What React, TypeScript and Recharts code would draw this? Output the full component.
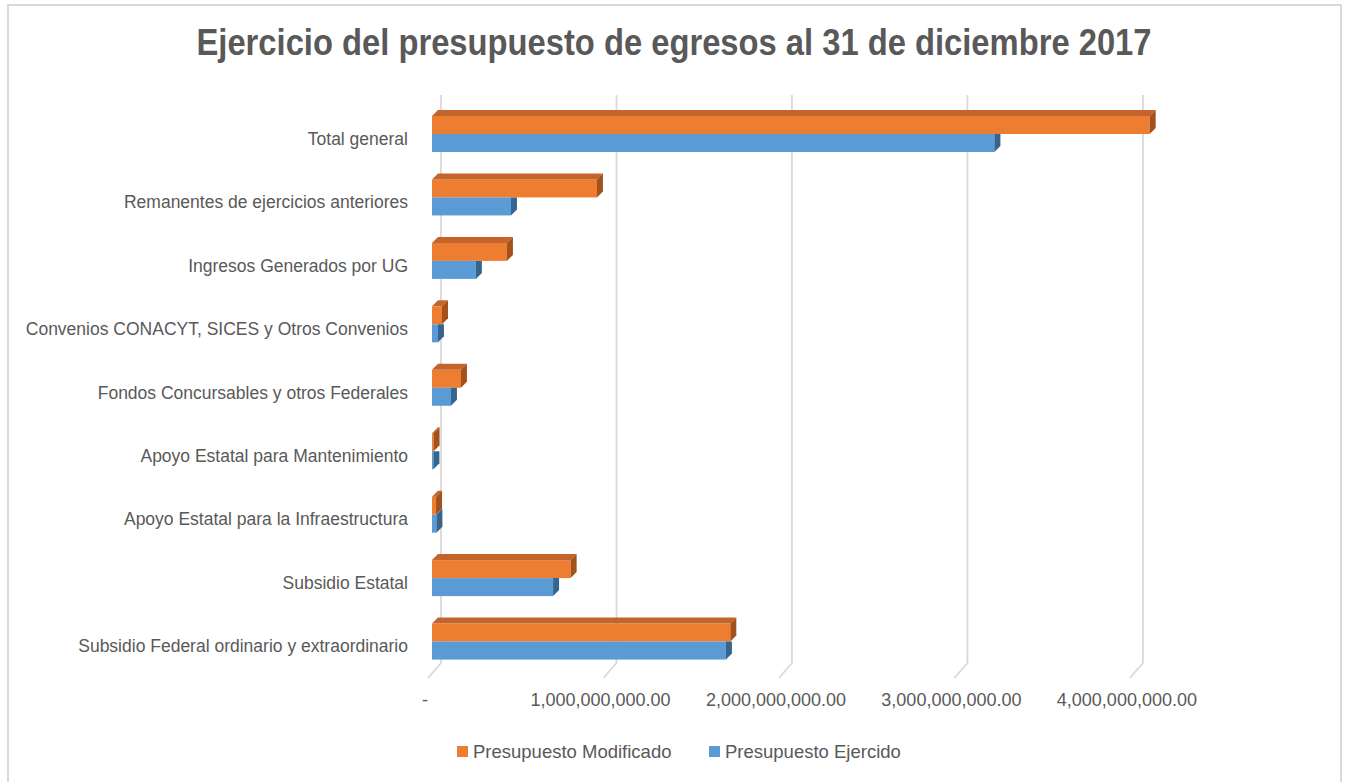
import React from 'react';
import { BarChart, Bar, XAxis, YAxis, CartesianGrid } from 'recharts';

const categories = [
  'Total general',
  'Remanentes de ejercicios anteriores',
  'Ingresos Generados por UG',
  'Convenios CONACYT, SICES y Otros Convenios',
  'Fondos Concursables y otros Federales',
  'Apoyo Estatal para Mantenimiento',
  'Apoyo Estatal para la Infraestructura',
  'Subsidio Estatal',
  'Subsidio Federal ordinario y extraordinario',
];

const modificado = [4090e6, 940e6, 427e6, 57e6, 165e6, 9e6, 23e6, 790e6, 1700e6];
const ejercido = [3205e6, 450e6, 250e6, 34e6, 108e6, 8e6, 25e6, 690e6, 1675e6];

const xTicks = [0, 1e9, 2e9, 3e9, 4e9];

const seriesNames = ['Presupuesto Modificado', 'Presupuesto Ejercido'];

const data = categories.map((name, i) => ({
  name,
  modificado: modificado[i],
  ejercido: ejercido[i],
}));

const FONT = '"Liberation Sans", Arial, sans-serif';
const TEXT = '#595959';
const GRID = '#d9d9d9';
const DX = 6;
const DY = 6;

const ORANGE = { front: '#ED7D31', top: '#C4642A', side: '#A3521D' };
const BLUE = { front: '#5B9BD5', top: '#4A82B5', side: '#35648F' };

const fmt = (v: number) =>
  v === 0 ? '-' : v.toLocaleString('en-US', { minimumFractionDigits: 2, maximumFractionDigits: 2 });

const OrangeShape = (props: any) => {
  const { x, y, width, height } = props;
  if (width == null || width < 0) return null;
  return (
    <g>
      <rect x={x} y={y} width={width} height={height} fill={ORANGE.front} />
      <polygon
        points={`${x},${y} ${x + DX},${y - DY} ${x + width + DX},${y - DY} ${x + width},${y}`}
        fill={ORANGE.top}
      />
      <polygon
        points={`${x + width},${y} ${x + width + DX},${y - DY} ${x + width + DX},${y + height - DY} ${x + width},${y + height}`}
        fill={ORANGE.side}
      />
    </g>
  );
};

const BlueShape = (props: any) => {
  const { x, y, width, height, payload } = props;
  if (width == null || width < 0) return null;
  // width of the orange bar above, so the parts hidden behind it are not drawn
  const other = payload.ejercido > 0 ? (width * payload.modificado) / payload.ejercido : 0;
  const right = x + width;
  let side;
  let top = null;
  if (other >= width) {
    side = `${right},${y} ${right + DX},${y} ${right + DX},${y + height - DY} ${right},${y + height}`;
  } else {
    side = `${right},${y} ${right + DX},${y - DY} ${right + DX},${y + height - DY} ${right},${y + height}`;
    top = (
      <polygon
        points={`${x + other},${y} ${x + other + DX},${y - DY} ${right + DX},${y - DY} ${right},${y}`}
        fill={BLUE.top}
      />
    );
  }
  return (
    <g>
      <rect x={x} y={y} width={width} height={height} fill={BLUE.front} />
      {top}
      <polygon points={side} fill={BLUE.side} />
    </g>
  );
};

const gridLine = (props: any) => {
  const { x1, y1, y2 } = props;
  // skip the boundary line at the end of the domain
  if (props.x != null && props.width != null && x1 >= props.x + props.width - 1) return <g key={props.key} />;
  const back = x1 + 9;
  return (
    <polyline
      key={props.key}
      points={`${back},${y1 - 7} ${back},${y2 - 10} ${x1 - 4},${y2 + 5}`}
      fill="none"
      stroke={GRID}
      strokeWidth={1.8}
    />
  );
};

const XTick = (props: any) => {
  const { x, payload } = props;
  return (
    <text x={x - 7} y={706} textAnchor="middle" fill={TEXT} fontSize={18} fontFamily={FONT}>
      {fmt(payload.value)}
    </text>
  );
};

const YTick = (props: any) => {
  const { x, y, payload } = props;
  return (
    <text x={x - 24} y={y + 11} textAnchor="end" fill={TEXT} fontSize={17.5} fontFamily={FONT}>
      {payload.value}
    </text>
  );
};

export default function App() {
  const colors = [ORANGE.front, BLUE.front];
  const legendX = [457, 709];
  return (
    <div
      style={{
        position: 'absolute',
        left: 0,
        top: 0,
        width: 1348,
        height: 782,
        background: '#fff',
        overflow: 'hidden',
        fontFamily: FONT,
      }}
    >
      <div
        style={{
          position: 'absolute',
          left: 7,
          top: 4,
          width: 1335,
          height: 820,
          border: `2px solid ${GRID}`,
          boxSizing: 'border-box',
        }}
      />
      <div style={{ position: 'absolute', left: 0, top: 0 }}>
        <BarChart
          width={1348}
          height={782}
          data={data}
          layout="vertical"
          margin={{ top: 102, right: 179, bottom: 0, left: 0 }}
          barGap={0}
          barSize={18}
        >
          <CartesianGrid horizontal={false} vertical={gridLine} />
          <XAxis
            type="number"
            domain={[0, 4.2e9]}
            ticks={xTicks}
            axisLine={false}
            tickLine={false}
            height={109}
            tick={<XTick />}
            interval={0}
          />
          <YAxis
            type="category"
            dataKey="name"
            width={432}
            axisLine={false}
            tickLine={false}
            tickSize={0}
            tickMargin={0}
            interval={0}
            tick={<YTick />}
          />
          <Bar dataKey="modificado" name={seriesNames[0]} fill={ORANGE.front} shape={OrangeShape} isAnimationActive={false} />
          <Bar dataKey="ejercido" name={seriesNames[1]} fill={BLUE.front} shape={BlueShape} isAnimationActive={false} />
        </BarChart>
      </div>
      <svg width={1348} height={782} style={{ position: 'absolute', left: 0, top: 0, pointerEvents: 'none' }}>
        <text
          x={674}
          y={55}
          textAnchor="middle"
          fill={TEXT}
          fontSize={36}
          fontWeight="bold"
          fontFamily={FONT}
          textLength={955}
          lengthAdjust="spacingAndGlyphs"
        >
          Ejercicio del presupuesto de egresos al 31 de diciembre 2017
        </text>
        {seriesNames.map((n, i) => (
          <g key={n}>
            <rect x={legendX[i]} y={746} width={11} height={11} fill={colors[i]} />
            <text x={legendX[i] + 16} y={758} fill={TEXT} fontSize={18.5} fontFamily={FONT}>
              {n}
            </text>
          </g>
        ))}
      </svg>
    </div>
  );
}
